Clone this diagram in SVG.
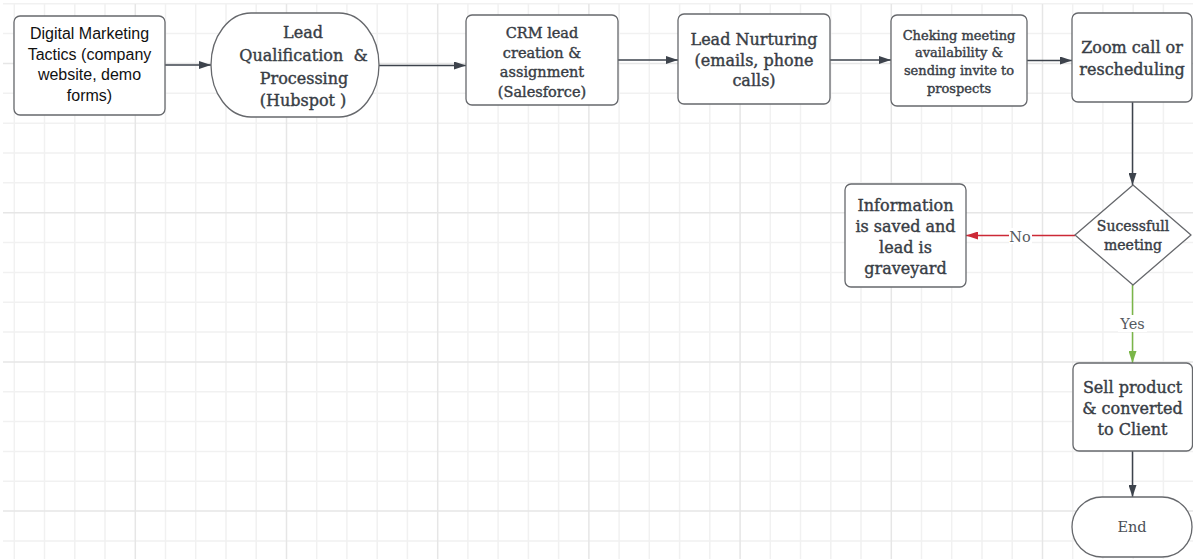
<svg xmlns="http://www.w3.org/2000/svg" width="1193" height="559" viewBox="0 0 1193 559">
<style>
.gmin{stroke:#f1f1f1;stroke-width:1.5;fill:none}
.gmaj{stroke:#e6e6e6;stroke-width:1.5;fill:none}
.node{fill:#ffffff;stroke:#66686c;stroke-width:1.3}
.sans{font-family:"Liberation Sans",Arial,sans-serif;font-size:16px;fill:#111111;text-anchor:middle}
.serif{font-family:"DejaVu Serif",serif;fill:#383d45;stroke:#383d45;stroke-width:0.4;text-anchor:middle}
.conn{stroke:#3d434c;stroke-width:1.5;fill:none}
.lbl{font-family:"DejaVu Serif",serif;font-size:14.5px;fill:#555a60;text-anchor:middle}
</style>
<defs>
<marker id="ah" markerUnits="userSpaceOnUse" markerWidth="12" markerHeight="8" refX="12" refY="4" orient="auto"><path d="M0,0 L12,4 L0,8 z" fill="#3d434c"/></marker>
<marker id="ahr" markerUnits="userSpaceOnUse" markerWidth="12" markerHeight="8" refX="12" refY="4" orient="auto"><path d="M0,0 L12,4 L0,8 z" fill="#cc2936"/></marker>
<marker id="ahg" markerUnits="userSpaceOnUse" markerWidth="12" markerHeight="8" refX="12" refY="4" orient="auto"><path d="M0,0 L12,4 L0,8 z" fill="#7ab648"/></marker>
</defs>
<rect x="0" y="0" width="1193" height="559" fill="#ffffff"/>
<g id="grid">
<path class="gmin" d="M14.3 4V559M44.5 4V559M74.8 4V559M105 4V559M165.5 4V559M195.7 4V559M226 4V559M256.2 4V559M316.7 4V559M346.9 4V559M377.2 4V559M407.4 4V559M467.9 4V559M498.1 4V559M528.4 4V559M558.6 4V559M619.1 4V559M649.3 4V559M679.6 4V559M709.8 4V559M770.3 4V559M800.5 4V559M830.8 4V559M861 4V559M921.5 4V559M951.7 4V559M982 4V559M1012.2 4V559M1072.7 4V559M1102.9 4V559M1133.2 4V559M1163.4 4V559
M3 3.8H1193M3 33.6H1193M3 93.3H1193M3 123.2H1193M3 153H1193M3 182.8H1193M3 242.5H1193M3 272.4H1193M3 302.2H1193M3 332H1193M3 391.7H1193M3 421.6H1193M3 451.4H1193M3 481.2H1193M3 540.9H1193"/>
<path class="gmaj" d="M135.3 4V559M286.5 4V559M437.7 4V559M588.9 4V559M740.1 4V559M891.3 4V559M1042.5 4V559M3 63.5H1193M3 212.7H1193M3 361.9H1193M3 511.1H1193"/>
</g>
<g id="connectors">
<line class="conn" x1="165" y1="65" x2="211" y2="65" marker-end="url(#ah)"/>
<line class="conn" x1="379" y1="65.5" x2="466" y2="65.5" marker-end="url(#ah)"/>
<line class="conn" x1="618" y1="60" x2="678" y2="60" marker-end="url(#ah)"/>
<line class="conn" x1="830" y1="60" x2="891" y2="60" marker-end="url(#ah)"/>
<line class="conn" x1="1027" y1="60.5" x2="1072" y2="60.5" marker-end="url(#ah)"/>
<line class="conn" x1="1132.5" y1="102" x2="1132.5" y2="185" marker-end="url(#ah)"/>
<line x1="1075" y1="235.5" x2="966" y2="235.5" stroke="#cc2936" stroke-width="1.5" marker-end="url(#ahr)"/>
<line x1="1132.5" y1="285" x2="1132.5" y2="363" stroke="#7ab648" stroke-width="1.5" marker-end="url(#ahg)"/>
<line class="conn" x1="1132.5" y1="451" x2="1132.5" y2="497" marker-end="url(#ah)"/>
<rect x="1009" y="228" width="23" height="16" fill="#ffffff"/>
<text class="lbl" x="1020" y="242">No</text>
<rect x="1118" y="315" width="29" height="17" fill="#ffffff"/>
<text class="lbl" x="1132.5" y="329">Yes</text>
</g>
<g id="n1">
<rect class="node" x="14" y="16" width="151" height="99" rx="6"/>
<text class="sans"><tspan x="89.5" y="39">Digital Marketing</tspan><tspan x="89.5" y="59.5">Tactics (company</tspan><tspan x="89.5" y="80">website, demo</tspan><tspan x="89.5" y="100.5">forms)</tspan></text>
</g>
<g id="n2">
<rect class="node" x="211" y="13" width="168" height="104" rx="40" ry="52"/>
<text class="serif" font-size="16"><tspan x="303" y="37.5">Lead</tspan><tspan x="303.5" y="61">Qualification&#160; &amp;</tspan><tspan x="304" y="84">Processing</tspan><tspan x="303" y="106">(Hubspot )</tspan></text>
</g>
<g id="n3">
<rect class="node" x="466" y="15" width="152" height="90" rx="6"/>
<text class="serif" font-size="14.5"><tspan x="542" y="38">CRM lead</tspan><tspan x="542" y="57.5">creation &amp;</tspan><tspan x="542" y="77">assignment</tspan><tspan x="542" y="96.5">(Salesforce)</tspan></text>
</g>
<g id="n4">
<rect class="node" x="678" y="14" width="152" height="90" rx="6"/>
<text class="serif" font-size="16"><tspan x="754" y="45">Lead Nurturing</tspan><tspan x="754" y="65.8">(emails, phone</tspan><tspan x="754" y="86">calls)</tspan></text>
</g>
<g id="n5">
<rect class="node" x="891" y="15" width="136" height="91" rx="6"/>
<text class="serif" font-size="13"><tspan x="959" y="39.5">Cheking meeting</tspan><tspan x="959" y="57.3">availability &amp;</tspan><tspan x="959" y="75.1">sending invite to</tspan><tspan x="959" y="92.9">prospects</tspan></text>
</g>
<g id="n6">
<rect class="node" x="1072" y="13" width="120" height="89" rx="6"/>
<text class="serif" font-size="16"><tspan x="1132" y="52.5">Zoom call or</tspan><tspan x="1132" y="75">rescheduling</tspan></text>
</g>
<g id="n7">
<path class="node" d="M1133 185 L1191 235 L1133 285 L1075 235 Z" stroke-linejoin="round"/>
<text class="serif" font-size="14"><tspan x="1133" y="231">Sucessfull</tspan><tspan x="1133" y="249.5">meeting</tspan></text>
</g>
<g id="n8">
<rect class="node" x="845" y="184" width="121" height="103" rx="6"/>
<text class="serif" font-size="16"><tspan x="905.5" y="210.5">Information</tspan><tspan x="905.5" y="231.5">is saved and</tspan><tspan x="905.5" y="252.5">lead is</tspan><tspan x="905.5" y="273.5">graveyard</tspan></text>
</g>
<g id="n9">
<rect class="node" x="1073" y="363" width="119.5" height="88" rx="6"/>
<text class="serif" font-size="16"><tspan x="1132.5" y="392.5">Sell product</tspan><tspan x="1132.5" y="413.5">&amp; converted</tspan><tspan x="1132.5" y="434.5">to Client</tspan></text>
</g>
<g id="n10">
<rect class="node" x="1072" y="497" width="120" height="60" rx="30" ry="30"/>
<text class="lbl" style="fill:#4a4f57"><tspan x="1132" y="532">End</tspan></text>
</g>
</svg>
